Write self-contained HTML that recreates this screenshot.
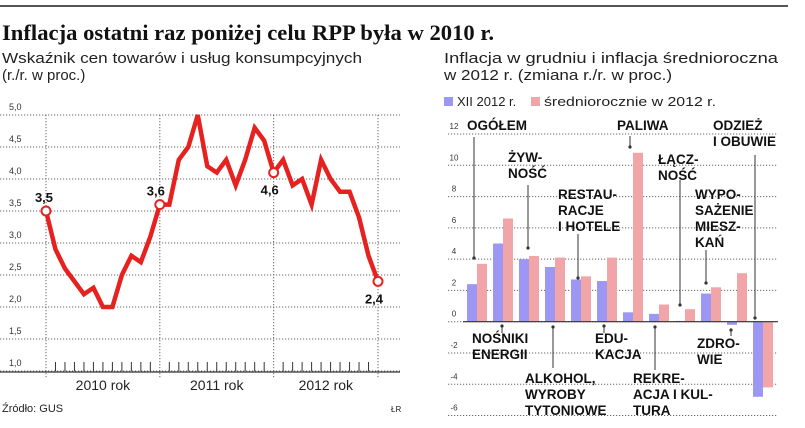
<!DOCTYPE html>
<html><head><meta charset="utf-8"><style>
body{margin:0;background:#fff;width:805px;height:428px;overflow:hidden;font-family:"Liberation Sans Narrow","Liberation Sans",sans-serif;}
svg{position:absolute;left:0;top:0}
</style></head><body>
<svg id="c" width="805" height="428" xmlns="http://www.w3.org/2000/svg">
<line x1="0" y1="6" x2="788" y2="6" stroke="#555" stroke-width="2"/>
<text x="2" y="40" font-family="Liberation Serif, serif" font-weight="bold" font-size="22" fill="#111" textLength="492" lengthAdjust="spacingAndGlyphs">Inflacja ostatni raz poniżej celu RPP była w 2010 r.</text>
<text x="2" y="63" font-size="15" fill="#222" textLength="360" lengthAdjust="spacingAndGlyphs">Wskaźnik cen towarów i usług konsumpcyjnych</text>
<text x="2" y="80" font-size="15" fill="#222">(r./r. w proc.)</text>
<text x="444" y="63" font-size="15" fill="#222" textLength="334" lengthAdjust="spacingAndGlyphs">Inflacja w grudniu i inflacja średnioroczna</text>
<text x="444" y="80" font-size="15" fill="#222" textLength="228" lengthAdjust="spacingAndGlyphs">w 2012 r.  (zmiana r./r. w proc.)</text>
<rect x="444" y="97" width="9" height="9" fill="#9b97f2"/>
<text x="457" y="106" font-size="13" fill="#222">XII 2012 r.</text>
<rect x="531" y="97" width="9" height="9" fill="#f2a5a8"/>
<text x="544" y="106" font-size="13" fill="#222" textLength="172" lengthAdjust="spacingAndGlyphs">średniorocznie w 2012 r.</text>
<text x="2" y="412" font-size="11" fill="#222">Źródło: GUS</text>
<text x="391" y="412" font-size="8" fill="#222">ŁR</text>
<g id="left"></g><g id="right"></g>
</svg>
<script>
const NS="http://www.w3.org/2000/svg";
const leftValues=[3.5,2.9,2.6,2.4,2.2,2.3,2.0,2.0,2.5,2.8,2.7,3.1,3.6,3.6,4.3,4.5,5.0,4.2,4.1,4.3,3.9,4.3,4.8,4.6,4.1,4.3,3.9,4.0,3.6,4.3,4.0,3.8,3.8,3.4,2.8,2.4];
const leftTicks=["1,0","1,5","2,0","2,5","3,0","3,5","4,0","4,5","5,0"];
const leftTickValues=[1,1.5,2,2.5,3,3.5,4,4.5,5];
const yearLabels=["2010 rok","2011 rok","2012 rok"];
const markedIdx=[0,12,24,35];
const markedLabels=["3,5","3,6","4,6","2,4"];
const categories=["OGÓŁEM","NOŚNIKI ENERGII","ŻYWNOŚĆ","ALKOHOL","RESTAURACJE","EDUKACJA","PALIWA","REKREACJA","ŁĄCZNOŚĆ","WYPOSAŻENIE","ZDROWIE","ODZIEŻ"];
const decValues=[2.4,5.0,4.0,3.5,2.7,2.6,0.6,0.5,0.05,1.8,-0.2,-4.8];
const avgValues=[3.7,6.6,4.2,4.1,2.9,4.1,10.8,1.1,0.8,2.2,3.1,-4.2];
const rightTicks=[-6,-4,-2,0,2,4,6,8,10,12];

function el(tag,attrs,parent,text){const e=document.createElementNS(NS,tag);for(const k in attrs)e.setAttribute(k,attrs[k]);if(text!==undefined)e.textContent=text;parent.appendChild(e);return e;}

// LEFT
const L=document.getElementById('left');
const lx=i=>46+i*(378-46)/35;
const ly=v=>371-(v-1)*64;
leftTickValues.forEach((v,i)=>{
  const g=el('line',{x1:0,x2:400,y1:ly(v),y2:ly(v),stroke:'#666','stroke-width':1,'stroke-dasharray':'1.2 1.8'},L);
  
  
  const t=el('text',{x:9,y:ly(v)-5,'font-size':9,fill:'#333'},L,leftTicks[i]);
  
  
});
[0,12,24,35].forEach(i=>{
  const g=el('line',{x1:lx(i),x2:lx(i),y1:115,y2:378,stroke:'#666','stroke-width':1,'stroke-dasharray':'1.2 1.8'},L);
  
  
});
for(let i=1;i<35;i++){ if(i===12||i===24)continue;
  const t=el('line',{x1:lx(i),x2:lx(i),y1:362,y2:371,stroke:'#333','stroke-width':1},L);
  
  
}
const ax=el('line',{x1:0,x2:400,y1:372,y2:372,stroke:'#333','stroke-width':1.2},L);


yearLabels.forEach((s,k)=>{
  const t=el('text',{x:(lx(k*12)+lx(Math.min(k*12+12,35)))/2,y:390,'font-size':14,fill:'#222','text-anchor':'middle'},L,s);
  
  
});
const line=el('polyline',{points:leftValues.map((v,i)=>lx(i)+','+ly(v)).join(' '),fill:'none',stroke:'#e5221f','stroke-width':4.5,'stroke-linejoin':'miter'},L);


markedIdx.forEach((i,k)=>{
  const c=el('circle',{cx:lx(i),cy:ly(leftValues[i]),r:4.5,fill:'#fff',stroke:'#e5221f','stroke-width':2},L);
  
  
  const below=(k===2||k===3);
  const t=el('text',{x:lx(i)+(k===3?-4:(k===0?-2:-4)),y:below?ly(leftValues[i])+22:ly(leftValues[i])-9,'font-size':13,'font-weight':'bold',fill:'#111','text-anchor':'middle'},L,markedLabels[k]);
  
  
});

// RIGHT
const R=document.getElementById('right');
const ry=v=>321.7-v*15.64;
rightTicks.forEach(v=>{
  const g=el('line',{x1:448,x2:778,y1:ry(v),y2:ry(v),stroke:'#666','stroke-width':1,'stroke-dasharray':'1.2 1.8'},R);
  
  
  const t=el('text',{x:454,y:ry(v)-5,'font-size':8,fill:'#333','text-anchor':'middle'},R,String(v));
  
  
});
const bx=i=>467+i*26;
categories.forEach((c,i)=>{
  const d=decValues[i],a=avgValues[i];
  const b1=el('rect',{x:bx(i),y:Math.min(ry(d),ry(0)),width:10,height:Math.max(Math.abs(ry(d)-ry(0)),0.5),fill:'#9b97f2'},R);
  
  
  const b2=el('rect',{x:bx(i)+10,y:Math.min(ry(a),ry(0)),width:10,height:Math.abs(ry(a)-ry(0)),fill:'#f2a5a8'},R);
  
  
});
const rax=el('line',{x1:463,x2:778,y1:ry(0),y2:ry(0),stroke:'#333','stroke-width':1.2},R);


const labs=[
 [["OGÓŁEM"],467,130,474,137,258],
 [["ŻYW-","NOŚĆ"],508,162,528,185,248],
 [["RESTAU-","RACJE","I HOTELE"],558,199,578,234,278],
 [["PALIWA"],617,130,630,136,147],
 [["ODZIEŻ","I OBUWIE"],713,130,755,155,318],
 [["ŁĄCZ-","NOŚĆ"],658,164,680,180,305],
 [["WYPO-","SAŻENIE","MIESZ-","KAŃ"],695,199,706,250,283],
 [["NOŚNIKI","ENERGII"],472,343,502,333,326],
 [["ALKOHOL,","WYROBY","TYTONIOWE"],525,383,553,368,327],
 [["EDU-","KACJA"],595,343,604,333,326],
 [["REKRE-","ACJA I KUL-","TURA"],633,383,655,370,327],
 [["ZDRO-","WIE"],697,348,731,336,330]
];
labs.forEach(([lines,x,y,px,py1,py2])=>{
  lines.forEach((s,j)=>{
    const t=el('text',{x:x,y:y+j*16,'font-size':13.5,fill:'#111','font-weight':'bold'},R,s);
    
    
  });
  const p=el('line',{x1:px,x2:px,y1:py1,y2:py2,stroke:'#333','stroke-width':1},R);
  
  
  const d=el('circle',{cx:px,cy:py2,r:1.6,fill:'#333'},R);
  
  
});
</script>
</body></html>
